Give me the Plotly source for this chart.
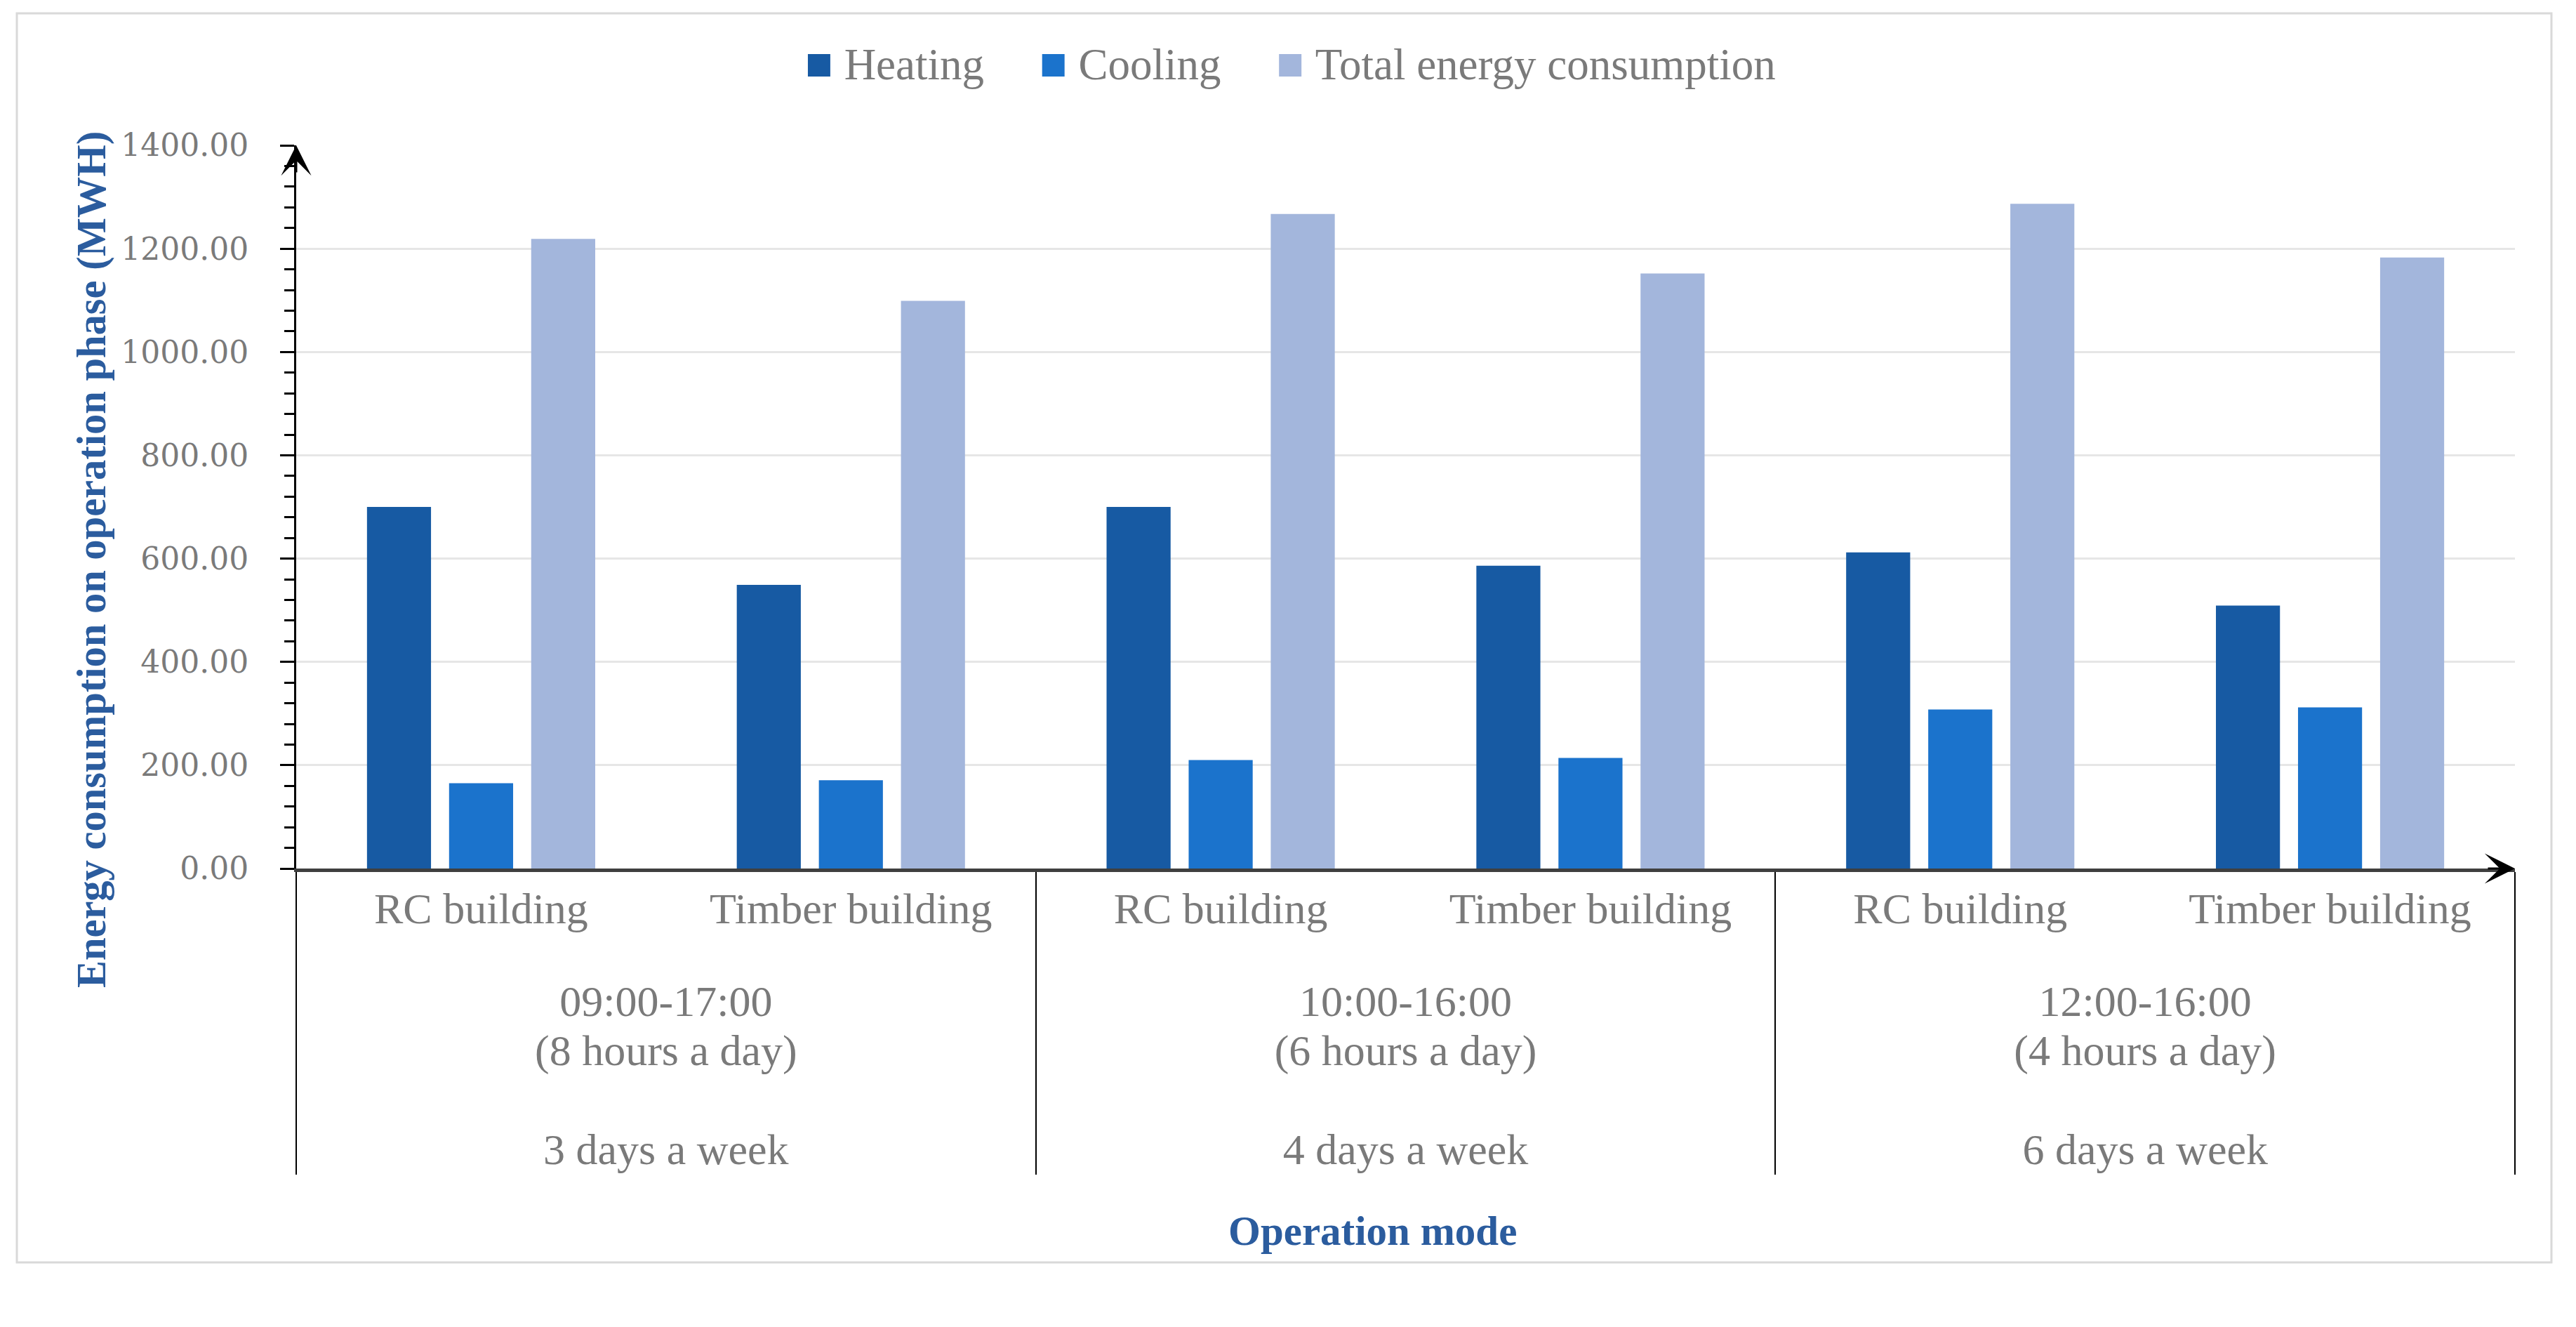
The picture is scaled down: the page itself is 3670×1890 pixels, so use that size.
import plotly.graph_objects as go

# ---- data ----
buildings = ["RC building", "Timber building"]
schedule_hours = ["09:00-17:00", "10:00-16:00", "12:00-16:00"]
schedule_daily = ["(8 hours a day)", "(6 hours a day)", "(4 hours a day)"]
schedule_days = ["3 days a week", "4 days a week", "6 days a week"]
series_names = ["Heating", "Cooling", "Total energy consumption"]
heating = [700, 549, 700, 586, 612, 509]
cooling = [165, 171, 210, 214, 308, 312]
total = [1219, 1099, 1267, 1152, 1287, 1183]
y_ticks = [0, 200, 400, 600, 800, 1000, 1200, 1400]

colors = ["#175AA3", "#1B73CC", "#A3B6DC"]
label_gray = "#7A7A7A"
title_blue = "#2B5C9E"
serif = "Liberation Serif"
LBL = 62  # visible size of category labels
BLANK = "\u00a0"


def sized(t):
    return f"<span style='font-size:{LBL}px'>{t}</span>"


schedules = ["<br>".join(sized(p) for p in (BLANK, h, d, BLANK, w))
             for h, d, w in zip(schedule_hours, schedule_daily, schedule_days)]
outer = [s for s in schedules for _ in buildings]
inner = [sized(b) for _ in schedules for b in buildings]

fig = go.Figure()
for name, vals, col in zip(series_names, [heating, cooling, total], colors):
    fig.add_trace(go.Bar(x=[outer, inner], y=vals, name=name,
                         marker=dict(color=col, line=dict(width=0)),
                         showlegend=False))

# legend built as text with coloured squares
legend_txt = "\u00a0\u00a0\u00a0\u00a0\u00a0".join(
    f"<span style='color:{c};font-size:66px'>\u25A0</span>\u00a0{n}"
    for n, c in zip(series_names, colors))

W, H = 3670, 1890
L, R, T, B = 422, 87, 207, 653

fig.update_layout(
    width=W, height=H,
    margin=dict(l=L, r=R, t=T, b=B),
    paper_bgcolor="white", plot_bgcolor="white",
    barmode="group", bargap=0.334, bargroupgap=0.22,
    font=dict(family=serif, color=label_gray, size=56),
    xaxis=dict(
        type="multicategory",
        showline=True, linecolor="#3F3F3F", linewidth=5,
        ticks="", showgrid=False,
        showdividers=True, dividercolor="black", dividerwidth=2,
        tickfont=dict(family=serif, size=54, color=label_gray),
        ticklabelstandoff=8,
        range=[-0.5, 5.5],
    ),
    yaxis=dict(
        range=[0, 1400], tickvals=y_ticks, tickformat=".2f",
        showline=True, linecolor="black", linewidth=3,
        ticks="outside", ticklen=20, tickwidth=3, tickcolor="black",
        minor=dict(dtick=40, ticks="outside", ticklen=14, tickwidth=3,
                   tickcolor="black", showgrid=False),
        showgrid=True, gridcolor="#E6E6E6", gridwidth=3,
        zeroline=False,
        tickfont=dict(family="DejaVu Serif", size=44, color=label_gray),
        ticklabelstandoff=36,
    ),
    annotations=[
        dict(text=legend_txt, xref="paper", yref="paper", x=0.448, y=1.113,
             showarrow=False, xanchor="center", yanchor="middle",
             font=dict(family=serif, size=63, color=label_gray)),
        dict(text="<b>Energy consumption on operation phase (MWH)</b>",
             xref="paper", yref="paper", x=-0.0924, y=0.427, textangle=-90,
             showarrow=False, xanchor="center", yanchor="middle",
             font=dict(family=serif, size=58.5, color=title_blue)),
        dict(text="<b>Operation mode</b>", xref="paper", yref="paper",
             x=0.485, y=-0.501, showarrow=False,
             xanchor="center", yanchor="middle",
             font=dict(family=serif, size=59, color=title_blue)),
        # axis arrowheads
        dict(x=0, y=1, xref="paper", yref="paper", ax=0, ay=40, text="",
             showarrow=True, arrowhead=3, arrowsize=2.4, arrowwidth=3,
             arrowcolor="black"),
        dict(x=1, y=0, xref="paper", yref="paper", ax=-40, ay=0, text="",
             showarrow=True, arrowhead=3, arrowsize=2.4, arrowwidth=3,
             arrowcolor="black"),
    ],
    shapes=[
        dict(type="rect", xref="paper", yref="paper",
             x0=(24 - L) / (W - L - R), x1=(3635 - L) / (W - L - R),
             y0=(H - B - 1798) / (H - T - B), y1=(H - B - 19) / (H - T - B),
             line=dict(color="#D9D9D9", width=3), layer="below"),
    ],
)

fig.write_html("out.html", config={"displayModeBar": False},
               post_script="document.body.style.margin='0';document.body.style.overflow='hidden';")
